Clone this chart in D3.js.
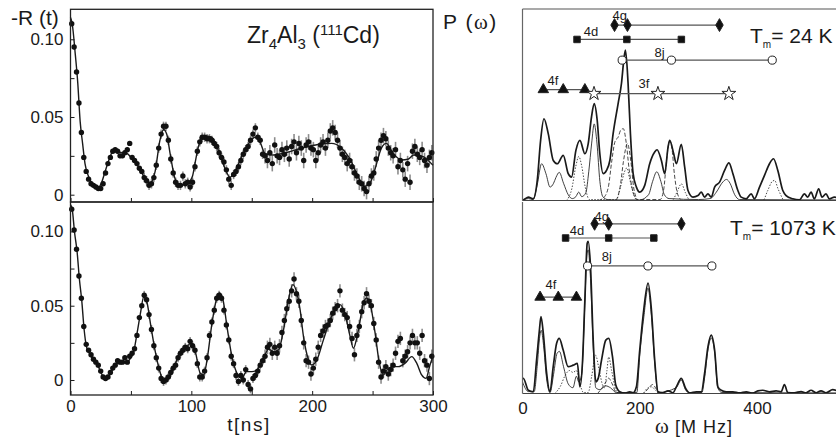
<!DOCTYPE html>
<html>
<head>
<meta charset="utf-8">
<script src="https://cdn.jsdelivr.net/npm/d3@7"></script>
<style>
  body { margin: 0; background: #fff; }
  text { font-family: "Liberation Sans", Arial, Helvetica, sans-serif; fill: #1a1a1a; }
</style>
</head>
<body>
<svg id="chart" width="836" height="437"></svg>
<script>
// ---------- data: -R(t) time spectra (t = 1, 3, 5 ... 299 ns) ----------
var t0 = 1, dt = 2;
var rTop = [
  0.110,0.095,0.079,0.059,0.040,0.024,0.015,0.010,0.007,0.006,
  0.005,0.004,0.004,0.007,0.014,0.020,0.024,0.028,0.029,0.028,
  0.025,0.025,0.027,0.029,0.033,0.024,0.022,0.020,0.017,0.015,
  0.011,0.009,0.006,0.007,0.011,0.019,0.030,0.039,0.044,0.044,
  0.035,0.023,0.014,0.008,0.006,0.006,0.012,0.007,0.008,0.005,
  0.008,0.018,0.028,0.034,0.037,0.037,0.036,0.036,0.035,0.033,
  0.031,0.027,0.024,0.021,0.016,0.010,0.006,0.013,0.015,0.018,
  0.022,0.026,0.029,0.031,0.035,0.039,0.043,0.037,0.035,0.026,
  0.025,0.022,0.027,0.020,0.032,0.025,0.024,0.029,0.026,0.030,
  0.023,0.031,0.034,0.027,0.033,0.030,0.022,0.032,0.034,0.030,
  0.029,0.022,0.027,0.032,0.034,0.030,0.035,0.041,0.043,0.040,
  0.035,0.030,0.026,0.024,0.020,0.022,0.018,0.014,0.012,0.008,
  0.007,0.004,0.002,0.007,0.012,0.014,0.023,0.030,0.035,0.038,
  0.036,0.030,0.027,0.025,0.029,0.018,0.022,0.016,0.010,0.020,
  0.008,0.028,0.031,0.026,0.024,0.029,0.022,0.019,0.024,0.027
];
var rBot = [
  0.115,0.101,0.088,0.070,0.055,0.036,0.024,0.020,0.017,0.014,
  0.012,0.010,0.006,0.002,0.001,0.002,0.005,0.008,0.010,0.013,
  0.012,0.012,0.015,0.012,0.016,0.018,0.021,0.030,0.042,0.050,
  0.057,0.054,0.044,0.034,0.023,0.015,0.008,0.001,-0.001,0.000,
  0.002,0.005,0.008,0.010,0.015,0.018,0.020,0.022,0.021,0.026,
  0.023,0.020,0.011,0.002,0.002,0.006,0.015,0.030,0.039,0.047,
  0.055,0.057,0.055,0.047,0.037,0.027,0.016,0.011,0.003,-0.001,
  0.003,0.000,0.007,-0.003,-0.006,0.001,0.003,0.006,0.010,0.013,
  0.016,0.022,0.024,0.018,0.022,0.018,0.023,0.032,0.040,0.048,
  0.053,0.060,0.068,0.058,0.053,0.040,0.025,0.013,0.012,0.004,
  0.008,0.014,0.022,0.030,0.033,0.036,0.037,0.040,0.045,0.048,
  0.050,0.060,0.047,0.044,0.042,0.036,0.028,0.017,0.030,0.036,
  0.046,0.052,0.058,0.053,0.050,0.038,0.027,0.012,0.002,0.006,
  0.009,0.004,0.007,0.010,0.018,0.026,0.028,0.013,0.016,0.019,
  0.025,0.030,0.025,0.025,0.018,0.030,0.013,0.010,0.001,0.016
];
// error bar half-lengths, by time segment
var errSegStart = [0, 60, 160];
var errTop = [0.0015, 0.003, 0.005];
var errBot = [0.0015, 0.003, 0.0045];

// fitted curves [t, -R]
var fitTop = [[0,0.114],[1.4,0.110],[4,0.090],[6,0.072],[8,0.047],[10,0.033],[12,0.020],[15,0.0116],[19,0.0062],[23,0.0047],
  [26,0.0084],[28.6,0.0148],[32.8,0.0244],[35.5,0.0287],[39.7,0.0276],[43,0.027],[46.6,0.0266],[50.7,0.0234],[56.2,0.018],[61.7,0.0105],
  [65.9,0.0073],[70,0.0148],[74,0.035],[77,0.042],[79.6,0.039],[82.4,0.0266],[86,0.0116],[89.3,0.0062],[94.8,0.0069],[99,0.009],
  [101,0.012],[103,0.020],[105,0.028],[107,0.034],[109,0.037],[111,0.038],[116.8,0.037],[122.3,0.0287],[127.8,0.017],[132,0.0112],
  [136,0.0148],[141.6,0.0244],[148.5,0.034],[152.6,0.037],[156.8,0.034],[160.9,0.0266],[166.4,0.0255],[176,0.0266],[185.7,0.0287],[196.7,0.031],
  [207.7,0.0326],[216,0.033],[224.2,0.030],[232.5,0.0212],[238,0.0116],[243.5,0.0055],[247.7,0.0073],[251.8,0.0159],[257.3,0.030],[261.4,0.033],
  [267,0.0266],[274,0.0223],[279.3,0.0228],[284,0.0255],[292,0.0244],[296,0.022],[300,0.019]];
var fitBot = [[0,0.118],[1.4,0.115],[3.3,0.0998],[5.5,0.086],[7.4,0.0676],[9.3,0.0536],[11.3,0.0338],[13.2,0.0225],[15.1,0.019],[17.9,0.0146],
  [22,0.0108],[26.2,0.0034],[28.9,0.0011],[33,0.0045],[37.2,0.0101],[41.3,0.0117],[45.5,0.0117],[49.6,0.0146],[52.3,0.019],[55.1,0.0315],
  [57.9,0.045],[60.6,0.0559],[63.4,0.0518],[66.1,0.0383],[70.2,0.019],[74.4,0.0045],[77.1,-0.0011],[81.2,0.0011],[85.4,0.0079],[90.9,0.019],
  [96.4,0.0225],[99.7,0.0248],[103.3,0.019],[107.4,0.0045],[110.2,0.0034],[113,0.0135],[117.1,0.0383],[120.7,0.054],[123.4,0.0586],[126.2,0.054],
  [129.5,0.036],[133.6,0.0157],[137.8,0.0045],[141.9,0.0011],[145.5,0.0056],[150.1,0.0056],[154.3,0.0068],[159.8,0.0146],[163.9,0.0209],[168,0.019],
  [172.2,0.0203],[176.3,0.0338],[180.4,0.054],[184,0.0642],[187.3,0.0586],[190,0.0473],[192.8,0.0293],[197,0.0135],[199.7,0.0101],[203.9,0.0135],
  [209.3,0.027],[214.9,0.0405],[219.8,0.0484],[223.1,0.0507],[227.3,0.0439],[231.4,0.0293],[234.1,0.0214],[238.3,0.0338],[242.4,0.0518],[245.2,0.0552],
  [248.5,0.0495],[252.1,0.0315],[255.6,0.0113],[258.9,0.0034],[263,0.0079],[267.2,0.009],[271.3,0.009],[276.9,0.0113],[282.4,0.0157],[286.5,0.0113],
  [290.6,0.0034],[294.2,0.0011],[297.5,0.0101],[300,0.016]];

// ---------- data: P(omega) frequency spectra [MHz, arb. units 0..100] ----------
var pTopTotal = [[0,0.5],[1.4,0.4],[9.9,1.8],[18.4,0.9],[25.2,10.5],[30.9,31.4],[36.6,42.7],[43.9,34.9],[52.5,20.9],[59.3,19.2],
  [69.5,23.6],[78,14],[83.7,12.2],[91.1,26.2],[97.9,31.4],[106.4,24.4],[112.1,29.7],[117.7,43.6],[122.3,50.6],[127.4,41.9],
  [131.9,24.4],[137.6,14],[143.3,15.7],[149,20.9],[154.6,34.9],[163.1,50.6],[168.8,61.1],[172.8,73.3],[175.6,78.5],[180.1,61.1],
  [184.1,34.9],[188.7,14],[194.3,7],[200,4.4],[208.5,7.9],[217,19.2],[225.5,25.3],[229.5,26.5],[236.9,20.9],[242.6,14],
  [248.3,27.9],[251.1,31.4],[257.9,24.4],[262.4,19.2],[270.9,29.3],[276.6,17.5],[282.3,5.2],[290.8,1.75],[299.3,2.6],[305,4.4],
  [310.6,1.75],[316.3,3.5],[322,1.75],[327.7,7],[336.2,9.6],[344.7,15.7],[352.1,19.7],[358.9,14],[367.4,5.2],[373,1.75],
  [381.6,0.9],[390.1,3.5],[395.7,0.9],[404.3,7],[412.8,13.1],[421.3,19.2],[428.1,21.8],[435.5,15.7],[444,5.2],[449.6,2.6],
  [461,0.9],[472.3,0.35],[480.9,3.5],[486.5,1.75],[492.2,4.4],[497.9,0.9],[505.2,6.1],[510.9,1.75],[517.7,3.5],[523.4,0.9],
  [531.9,1.75],[540,1]];
var pTopThin = [[0,0.3],[10,1],[18,0.5],[25,8],[32.6,19.2],[40,14],[47,7],[53,9],[57,12],[62.7,14.7],[70,9],[78,3],[85,1],
  [91,2],[96,4.4],[101,2],[108,4],[113,15],[118,30],[122.3,40],[127,30],[132,10],[137,2],[145,0.5],[160,0.3],[200,0.3],
  [215,3],[222,10],[229,15],[236,10],[242,3],[250,1],[300,0.5],[320,1],[332,5],[340,9],[348,11],[354,9],[362,3],[370,0.5],[540,0.3]];
var pTopDash = [[130,0],[140,2],[147,8],[152,20],[158,31],[163,33],[168,37],[172,37.5],[177,30],[182,16],[188,5],[195,0.5],
  [235,0.5],[241,6],[246,22],[251,31],[255,27],[259,14],[264,4],[270,0.5]];
var pTopDash2 = [[160,0],[167,8],[172,20],[179,29.7],[185,20],[190,6],[197,0]];
var pTopDot = [[75,0],[84,6],[91,18],[96,23],[101,18],[107,7],[114,0.5],[160,0.5],[168,8],[174,15],[178,17],[183,11],[190,3],
  [198,0],[255,0],[263,4],[271,8.7],[278,4],[286,0],[410,0],[418,5],[426,10],[430,10.5],[436,6],[445,0]];

var pBotTotal = [[0,7.9],[1.4,7.9],[9.9,1.7],[18.4,0.9],[24,17.4],[28.6,32.3],[31.5,40.1],[35.5,31.4],[41.2,10.5],[46.8,0.9],
  [52.4,14],[58.2,26.2],[62.7,28.8],[69.4,22.7],[78,14],[86.5,14.8],[93.6,15.7],[97.9,3.5],[102.5,17.4],[106.4,48.8],
  [110.4,78.5],[112.1,79.4],[116,66.3],[120.6,27.9],[125.1,6.1],[129.1,7.9],[134.8,17.4],[142.1,27.9],[147.2,28.8],[153.5,19.2],
  [159.1,4.4],[165.9,0.9],[174.5,0.2],[183,0.9],[188.7,0.35],[194.3,3.5],[200,22.7],[206.8,43.6],[214.2,57.6],[219.9,43.6],
  [225.5,17.4],[231.2,0.9],[239.7,0.35],[248.2,1.4],[256.7,0.35],[262.4,3.5],[270.9,7.9],[278.3,2.6],[285.1,0.35],[296.5,0.9],
  [305,0.9],[310.6,10.5],[316.3,24.4],[322,30.5],[327.7,22.7],[333.3,3.5],[339,1.7],[347.5,0.9],[358.9,0.9],[370.2,0.35],
  [381.6,0.9],[392.9,0.2],[401.4,1.4],[409.9,1.7],[421.3,0.9],[432.6,1.4],[441.1,0.9],[446.8,4.7],[452.5,0.5],[463.8,0.4],
  [475.2,1],[483.7,0.35],[492.2,1.7],[500.7,0.35],[509.2,1.4],[517.7,0.35],[529.1,2],[540,1]];
var pBotThin = [[0,6],[10,1],[20,1],[25,14],[29.5,30],[32,33],[36,25],[41,8],[47,0.5],[53,10],[59,21],[63,22],[70,14],[78,5],
  [86,3],[92,9],[96,6],[101,10],[106,44],[110,73],[112,75],[116,60],[121,22],[125,3],[132,2],[142,4],[150,3],[160,0.5],
  [195,0.5],[200,20],[207,40],[214,55],[220,40],[226,14],[231,0.5],[262,3],[270.9,7],[278,2],[285,0.3],[306,0.5],[311,9],
  [316,22],[322,29],[328,21],[333,3],[340,0.5],[540,0.3]];
var pBotDot = [[55,0],[65,4],[72,9],[80,12],[86,11],[92,12],[98,5],[104,0.5],[112,0.5],[118,9],[124.6,20],[131,12],[137,4],
  [140,3],[144,12],[147,19],[152,12],[158,3],[164,0],[205,0],[212,2.5],[220,3.5],[226,2],[232,0]];
var pBotDash = [[128,0],[136,3],[142,6],[147,8],[153,5],[160,0.5],[205,0],[213,2],[222,4.7],[229,2],[235,0]];

// lattice sites: quadrupole frequency triplets and level in the panel
var siteNames = ["4g", "4d", "8j", "4f", "3f"];
var siteFreqTop = [[157,179,336],[93,178,271],[170,254,426],[35.5,69.5,106.4],[122,231,352]];
var siteLevelTop = [91.6, 84.1, 73.3, 57.9, 55.8];
var siteFreqBot = [[123,147,271],[73.5,147,224],[111,214,323],[30,61,92]];
var siteLevelBot = [88.6, 81.2, 66.6, 50.3];

// axis ticks
var tTicks = [0,50,100,150,200,250,300];
var tLabels = [0,100,200,300];
var rTicks = [0,0.025,0.05,0.075,0.10];
var rLabels = [0,0.05,0.10];
var wLabels = [0,200,400];

// ---------- layout ----------
var svg = d3.select("#chart");
var ink = "#1a1a1a";

var xT = d3.scaleLinear().domain([0,300]).range([70.5,433]);
var leftPanels = [
  {y: d3.scaleLinear().domain([-0.0047,0.1193]).range([202,9.3]), r: rTop, fit: fitTop, err: errTop, xlab: false},
  {y: d3.scaleLinear().domain([-0.0101,0.1198]).range([395,202]), r: rBot, fit: fitBot, err: errBot, xlab: true}
];

function errAt(t, levels) {
  var k = 0;
  errSegStart.forEach(function(s, i){ if (t >= s) k = i; });
  return levels[k];
}

function styleAxis(g) {
  g.attr("font-family", null).attr("font-size", null);
  g.select(".domain").remove();
  g.selectAll(".tick line").attr("stroke", ink).attr("stroke-width", 1);
  g.selectAll(".tick text").style("font-size", "17px").attr("fill", ink);
}

leftPanels.forEach(function(p) {
  var g = svg.append("g");
  var y = p.y;
  var yb = y.range()[0], yt = y.range()[1];

  // ticks
  g.append("g").attr("transform", "translate(0," + yb + ")")
    .call(d3.axisBottom(xT).tickValues(tTicks).tickSizeInner(-4).tickSizeOuter(0).tickPadding(5)
      .tickFormat(function(d){ return p.xlab && tLabels.indexOf(d) >= 0 ? d : ""; }))
    .call(styleAxis);
  g.append("g").attr("transform", "translate(" + xT(0) + ",0)")
    .call(d3.axisLeft(y).tickValues(rTicks).tickSizeInner(-4).tickSizeOuter(0).tickPadding(7)
      .tickFormat(function(d){ return rLabels.indexOf(d) >= 0 ? (d === 0 ? "0" : d3.format(".2f")(d)) : ""; }))
    .call(styleAxis);

  // error bars
  var pts = p.r.map(function(v, i){ return {t: t0 + i*dt, v: v}; });
  g.selectAll("line.err").data(pts).enter().append("line")
    .attr("x1", function(d){ return xT(d.t); }).attr("x2", function(d){ return xT(d.t); })
    .attr("y1", function(d){ return y(d.v - errAt(d.t, p.err)); })
    .attr("y2", function(d){ return y(d.v + errAt(d.t, p.err)); })
    .attr("stroke", "#8c8c8c").attr("stroke-width", 1.6);

  // fit
  g.append("path").datum(p.fit)
    .attr("d", d3.line().x(function(d){ return xT(d[0]); }).y(function(d){ return y(d[1]); }).curve(d3.curveMonotoneX))
    .attr("fill", "none").attr("stroke", ink).attr("stroke-width", 1.4);

  // points
  g.selectAll("circle").data(pts).enter().append("circle")
    .attr("cx", function(d){ return xT(d.t); }).attr("cy", function(d){ return y(d.v); })
    .attr("r", 2.7).attr("fill", "#111");

  // frame
  g.append("rect").attr("x", xT(0)).attr("y", yt).attr("width", xT(300) - xT(0)).attr("height", yb - yt)
    .attr("fill", "none").attr("stroke", "#222").attr("stroke-width", 1.3);
});

// ---------- right panels ----------
var xW = d3.scaleLinear().domain([0,400]).range([522.5,757]);
var rightPanels = [
  {y: d3.scaleLinear().domain([0,100]).range([200.5,9]), total: pTopTotal, thin: pTopThin,
   dash: [pTopDash, pTopDash2], dot: [pTopDot], freq: siteFreqTop, level: siteLevelTop,
   labelAt: [166,117,234,52,207], labelDy: [-5,-3,-3,-5,-6], temp: "= 24 K", tx: 750, ty: 43},
  {y: d3.scaleLinear().domain([0,100]).range([393.5,202]), total: pBotTotal, thin: pBotThin,
   dash: [pBotDash], dot: [pBotDot], freq: siteFreqBot, level: siteLevelBot,
   labelAt: [135,93,144,48.5], labelDy: [-3,-3,-5,-8], temp: "= 1073 K", tx: 730, ty: 235}
];
var symbols = [d3.symbolDiamond, d3.symbolSquare, d3.symbolCircle, d3.symbolTriangle, d3.symbolStar];
var symSize = [48, 42, 52, 48, 60];
var symFill = ["#111", "#111", "#fff", "#111", "#fff"];

svg.append("defs").append("clipPath").attr("id", "rclip")
  .append("rect").attr("x", 522).attr("y", 0).attr("width", 314).attr("height", 437);

rightPanels.forEach(function(p, pi) {
  var y = p.y;
  var yb = y.range()[0], yt = y.range()[1];
  var g = svg.append("g");
  var line = d3.line().x(function(d){ return xW(d[0]); }).y(function(d){ return y(d[1]); }).curve(d3.curveMonotoneX);
  var cg = g.append("g").attr("clip-path", "url(#rclip)");

  p.dot.forEach(function(s){
    cg.append("path").datum(s).attr("d", line).attr("fill", "none")
      .attr("stroke", "#333").attr("stroke-width", 0.9).attr("stroke-dasharray", "1.4,1.6");
  });
  p.dash.forEach(function(s){
    cg.append("path").datum(s).attr("d", line).attr("fill", "none")
      .attr("stroke", "#333").attr("stroke-width", 0.9).attr("stroke-dasharray", "4,2");
  });
  cg.append("path").datum(p.thin).attr("d", line).attr("fill", "none")
    .attr("stroke", "#2a2a2a").attr("stroke-width", 0.9);
  cg.append("path").datum(p.total).attr("d", line).attr("fill", "none")
    .attr("stroke", ink).attr("stroke-width", 1.7);

  // frame: top, left and baseline
  g.append("line").attr("x1", xW(0)).attr("x2", 836).attr("y1", yb).attr("y2", yb).attr("stroke", "#444").attr("stroke-width", 1.2);
  g.append("line").attr("x1", xW(0)).attr("x2", xW(0)).attr("y1", yt).attr("y2", yb).attr("stroke", "#666").attr("stroke-width", 1.2);
  if (pi === 0) g.append("line").attr("x1", xW(0)).attr("x2", 836).attr("y1", yt).attr("y2", yt).attr("stroke", "#555").attr("stroke-width", 1.2);

  // site triplets
  p.freq.forEach(function(f, k){
    var ly = y(p.level[k]);
    g.append("line").attr("x1", xW(f[0])).attr("x2", xW(f[2])).attr("y1", ly).attr("y2", ly)
      .attr("stroke", "#555").attr("stroke-width", 1.2);
    g.selectAll(null).data(f).enter().append("path")
      .attr("transform", function(d){ return "translate(" + xW(d) + "," + ly + ")"; })
      .attr("d", d3.symbol().type(symbols[k]).size(symSize[k]))
      .attr("fill", symFill[k]).attr("stroke", "#222").attr("stroke-width", 1);
    g.append("text").attr("x", xW(p.labelAt[k])).attr("y", ly + p.labelDy[k])
      .attr("text-anchor", "middle").style("font-size", "13px").text(siteNames[k]);
  });

  // temperature label
  var tt = g.append("text").attr("x", p.tx).attr("y", p.ty).style("font-size", "21px");
  tt.append("tspan").text("T");
  tt.append("tspan").attr("dy", 5).style("font-size", "10px").text("m");
  tt.append("tspan").attr("dy", -5).text(p.temp);
});

// frequency axis
svg.append("g").attr("transform", "translate(0," + rightPanels[1].y.range()[0] + ")")
  .call(d3.axisBottom(xW).tickValues(wLabels).tickSize(0).tickPadding(8).tickFormat(d3.format("d")))
  .call(styleAxis);

// ---------- titles ----------
svg.append("text").attr("x", 11).attr("y", 25).style("font-size", "21px").text("-R (t)");
var pw = svg.append("text").attr("x", 443).attr("y", 29).style("font-size", "21px").attr("letter-spacing", "1.5");
pw.append("tspan").text("P (");
pw.append("tspan").style("font-family", "'Liberation Serif', 'Times New Roman', serif").text("ω");
pw.append("tspan").text(")");

var zt = svg.append("text").attr("x", 247).attr("y", 43).style("font-size", "23px");
zt.append("tspan").text("Zr");
zt.append("tspan").attr("dy", 6).style("font-size", "15px").text("4");
zt.append("tspan").attr("dy", -6).text("Al");
zt.append("tspan").attr("dy", 6).style("font-size", "15px").text("3");
zt.append("tspan").attr("dy", -6).text(" (");
zt.append("tspan").attr("dy", -8).style("font-size", "15px").text("111");
zt.append("tspan").attr("dy", 8).text("Cd)");

svg.append("text").attr("x", 249).attr("y", 431).attr("text-anchor", "middle")
  .style("font-size", "19px").attr("letter-spacing", "1.5").text("t[ns]");
var wl = svg.append("text").attr("x", 694).attr("y", 433).attr("text-anchor", "middle").style("font-size", "18px");
wl.append("tspan").style("font-family", "'Liberation Serif', 'Times New Roman', serif").style("font-size", "21px").text("ω");
wl.append("tspan").attr("letter-spacing", "1").text(" [M Hz]");
</script>
</body>
</html>
